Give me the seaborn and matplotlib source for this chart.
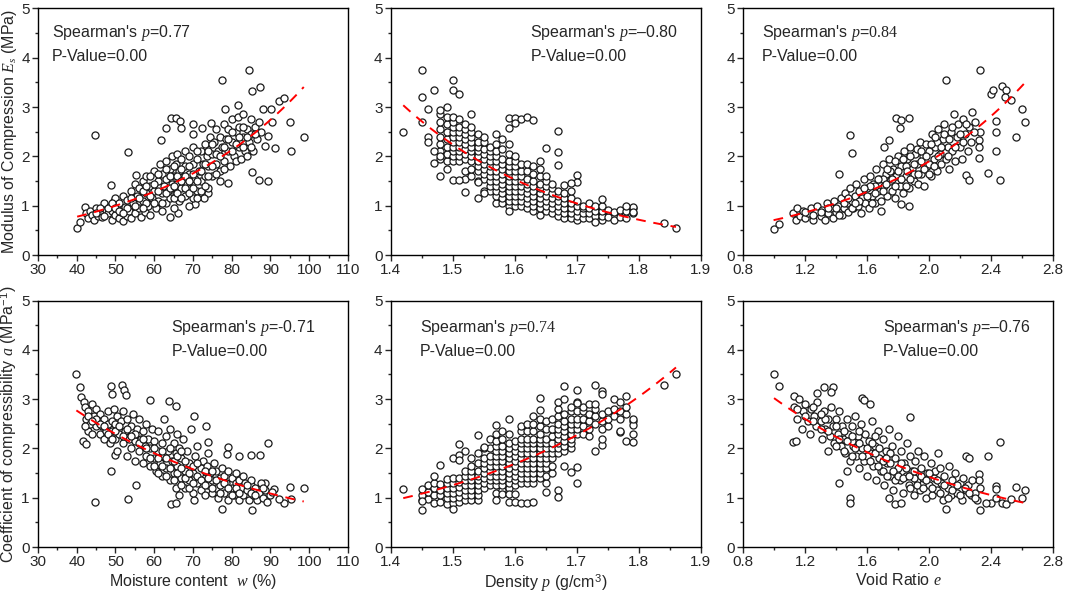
import numpy as np
import matplotlib
matplotlib.use("Agg")
import matplotlib.pyplot as plt
import seaborn as sns
from matplotlib.ticker import MultipleLocator

# ---- data (x, y) ----
# Es vs moisture content w
es_w = [
    (40.1, 0.54), (40.8, 0.66), (44.6, 2.43), (53.2, 2.08), (48.9, 1.43), (55.4, 1.63),
    (77.5, 3.55), (84.5, 3.76), (85.2, 3.33), (87.4, 3.41), (92.2, 3.12), (93.5, 3.19),
    (95.1, 2.70), (95.4, 2.11), (98.6, 2.39), (91.1, 2.18), (89.4, 2.42), (88.7, 2.21),
    (89.4, 1.51), (87.0, 1.52), (85.2, 1.69), (90.2, 2.96), (88.1, 2.97), (90.4, 2.70),
    (78.2, 2.96), (81.6, 3.05), (64.4, 2.77), (65.7, 2.77), (66.6, 2.72), (63.1, 2.57),
    (66.9, 2.58), (61.8, 2.33), (70.0, 2.65), (70.0, 2.45), (72.4, 2.57), (74.7, 2.68),
    (79.0, 1.47), (76.9, 1.51), (73.9, 1.25), (72.8, 1.15), (66.1, 0.86), (64.0, 0.78),
    (70.6, 1.03),
    (42, 0.98), (42.5, 0.85), (43, 0.75), (43.5, 0.9), (44, 0.82), (44.5, 0.72), (45, 0.95),
    (45.5, 0.8), (46, 0.88), (46.5, 0.78), (47, 1.05), (47.5, 0.92), (48, 0.85), (48.5, 1.0),
    (49, 0.72), (49, 0.9), (49.5, 1.1), (50, 0.82), (50, 1.15), (50.5, 0.95),
    (51, 0.75), (51, 1.05), (51.5, 0.88), (52, 0.68), (52, 1.2), (52.5, 0.98), (53, 0.8),
    (53, 1.12), (53.5, 0.9), (54, 1.3), (54, 0.75), (54.5, 1.05), (55, 0.85), (55, 1.45),
    (55.5, 1.2), (56, 0.95), (56, 1.35), (56.5, 0.78),
    (57, 1.1), (57, 1.5), (57.5, 0.88), (58, 1.25), (58, 1.6), (58.5, 1.0), (59, 1.4),
    (59, 0.82), (59.5, 1.15), (60, 1.3), (60, 1.7), (60.5, 0.95), (61, 1.5), (61, 1.1),
    (61.5, 1.85), (62, 1.25), (62, 0.9), (62, 1.65), (62.5, 1.4),
    (63, 1.05), (63, 1.55), (63, 1.9), (63.5, 1.3), (64, 1.75), (64, 1.15), (64.5, 1.45),
    (64.5, 2.0), (65, 0.95), (65, 1.6), (65.5, 1.25), (65.5, 1.85), (66, 1.45), (66, 2.05),
    (66.5, 1.1), (66.5, 1.7), (67, 1.35), (67, 1.95), (67.5, 1.55), (68, 1.2), (68, 1.8),
    (68, 2.1), (68.5, 1.45),
    (69, 1.0), (69, 1.65), (69, 2.0), (69.5, 1.35), (70, 1.85), (70, 1.15), (70, 2.2),
    (70.5, 1.55), (71, 1.95), (71, 1.3), (71.5, 1.7), (72, 2.1), (72, 1.5), (72.5, 1.85),
    (73, 2.25), (73, 1.6), (73.5, 2.0), (74, 1.35), (74, 1.8), (74.5, 2.4),
    (75, 2.05), (75, 1.6), (75.5, 2.3), (76, 1.85), (76, 2.55), (76.5, 2.1), (77, 1.7),
    (77, 2.4), (77.5, 2.2), (78, 1.9), (78, 2.65), (78.5, 2.35), (79, 2.1), (79, 2.55),
    (79.5, 1.8), (80, 2.3), (80, 2.75), (80.5, 2.0),
    (81, 2.5), (81, 1.9), (81.5, 2.8), (82, 2.2), (82, 2.6), (82.5, 1.95), (83, 2.4),
    (83, 2.85), (83.5, 2.1), (84, 2.55), (84, 2.0), (84.5, 2.3), (85, 2.75), (85, 2.45),
    (85.5, 2.1), (86, 2.6), (86.5, 2.35), (87, 2.7), (87.5, 2.5),
    (58, 1.05), (59, 1.2), (60, 1.45), (60, 1.05), (61, 1.3), (61, 1.65), (62, 1.05),
    (63, 1.25), (63, 1.75), (64, 1.35), (64, 1.6), (65, 1.15), (65, 1.4), (65, 1.8),
    (66, 1.25), (66, 1.6), (67, 1.15), (67, 1.5), (67, 1.75), (68, 1.35), (68, 1.6),
    (69, 1.25), (69, 1.5), (69, 1.8), (70, 1.35), (70, 1.65), (71, 1.15), (71, 1.5),
    (71, 2.1), (72, 1.3), (72, 1.7), (73, 1.4), (73, 1.85), (74, 1.6), (74, 2.1),
    (75, 1.8), (75, 2.25), (76, 2.05), (76, 1.65), (77, 2.0), (78, 2.2), (78, 1.75),
    (79, 2.35), (80, 2.1), (80, 2.5), (81, 2.25), (82, 2.4), (83, 2.2), (83, 2.6),
    (84, 2.4), (85, 2.2), (86, 2.45), (53, 0.95), (54, 1.15), (55, 1.0), (56, 1.15),
    (57, 0.95), (57, 1.3), (58, 1.4), (59, 1.6), (47, 0.8), (48, 0.95), (49, 1.05),
    (50, 0.95), (51, 0.9), (52, 0.85), (46, 0.95), (45, 0.85),
]

# Es vs density rho: (density, [Es values in that column])
es_rho_cols = [
    (1.48, [1.95, 2.1, 2.25, 2.4, 2.55, 2.7, 2.85, 2.95]),
    (1.49, [1.9, 2.05, 2.2, 2.35, 2.5, 2.65, 2.8, 3.0]),
    (1.50, [1.9, 2.0, 2.1, 2.2, 2.3, 2.4, 2.5, 2.6, 2.7, 2.8]),
    (1.51, [1.9, 2.0, 2.1, 2.2, 2.3, 2.4, 2.5, 2.6, 2.75]),
    (1.52, [1.55, 1.7, 1.95, 2.05, 2.15, 2.25, 2.35, 2.45, 2.55, 2.65]),
    (1.53, [1.6, 1.75, 1.9, 2.0, 2.1, 2.2, 2.3, 2.4, 2.5, 2.6]),
    (1.54, [1.5, 1.7, 1.8, 1.9, 2.0, 2.1, 2.2, 2.3, 2.45]),
    (1.55, [1.3, 1.55, 1.65, 1.75, 1.85, 1.95, 2.05, 2.15, 2.3, 2.4]),
    (1.56, [1.3, 1.4, 1.5, 1.6, 1.7, 1.8, 1.9, 2.0, 2.1, 2.2]),
    (1.57, [1.05, 1.2, 1.3, 1.4, 1.5, 1.6, 1.7, 1.8, 1.9, 2.0, 2.1, 2.25, 2.45]),
    (1.58, [1.05, 1.15, 1.25, 1.35, 1.45, 1.55, 1.65, 1.75, 1.85, 1.95, 2.15, 2.35]),
    (1.59, [1.0, 1.1, 1.2, 1.3, 1.4, 1.5, 1.6, 1.7, 1.8, 1.9, 2.05, 2.25]),
    (1.60, [1.0, 1.1, 1.2, 1.3, 1.4, 1.5, 1.6, 1.7, 1.8, 1.9, 2.0]),
    (1.61, [1.0, 1.1, 1.2, 1.3, 1.4, 1.5, 1.6, 1.7, 1.85]),
    (1.62, [0.95, 1.05, 1.15, 1.25, 1.35, 1.45, 1.55, 1.7, 1.85]),
    (1.63, [0.9, 1.0, 1.1, 1.2, 1.3, 1.4, 1.5, 1.65, 1.8]),
    (1.64, [0.82, 0.95, 1.05, 1.15, 1.25, 1.35, 1.45, 1.6, 1.75, 1.9]),
    (1.65, [0.9, 1.0, 1.1, 1.2, 1.3, 1.4, 1.5, 1.6]),
    (1.66, [0.85, 0.95, 1.05, 1.15, 1.25, 1.35, 1.45]),
    (1.67, [0.8, 0.9, 1.0, 1.1, 1.2, 1.3]),
    (1.68, [0.75, 0.85, 0.95, 1.05, 1.15, 1.25]),
    (1.69, [0.75, 0.85, 0.95, 1.05, 1.15, 1.3]),
    (1.70, [0.7, 0.8, 0.9, 1.0, 1.1]),
    (1.71, [0.75, 0.85, 0.95, 1.0]),
    (1.72, [0.75, 0.85, 0.95, 1.05]),
    (1.73, [0.8, 0.9, 1.0]),
    (1.74, [0.7, 0.8, 0.9, 1.0]),
    (1.75, [0.78, 0.92]),
    (1.76, [0.72, 0.88]),
    (1.77, [0.78, 0.92]),
    (1.78, [0.75, 0.9]),
    (1.79, [0.85, 0.95]),
]
es_rho_extra = [
    (1.42, 2.49), (1.45, 3.75), (1.45, 3.2), (1.45, 2.69), (1.46, 2.96), (1.46, 2.4),
    (1.46, 2.3), (1.47, 3.34), (1.47, 1.86), (1.47, 2.1), (1.48, 1.6), (1.48, 2.0),
    (1.49, 1.74), (1.50, 3.55), (1.50, 3.34), (1.51, 3.26), (1.50, 1.52), (1.51, 1.52),
    (1.52, 1.28), (1.53, 2.87), (1.54, 1.15), (1.54, 1.49), (1.55, 1.25), (1.59, 0.9),
    (1.59, 2.77), (1.60, 2.77), (1.61, 2.75), (1.62, 2.79), (1.63, 2.74), (1.59, 2.57),
    (1.60, 2.67), (1.65, 2.18), (1.67, 2.52), (1.67, 2.09), (1.67, 1.82), (1.70, 1.62),
    (1.70, 1.49), (1.68, 1.42), (1.69, 1.47), (1.84, 0.64), (1.86, 0.54), (1.79, 0.98),
    (1.79, 0.88), (1.78, 1.0), (1.74, 1.13), (1.73, 0.67),
]

# Es vs void ratio e
es_e = [
    (0.997, 0.53), (1.03, 0.63), (1.49, 2.44), (1.50, 2.07), (1.42, 1.64), (2.11, 3.55),
    (2.33, 3.75), (2.40, 3.27), (2.41, 3.35), (2.47, 3.42), (2.50, 3.35), (2.49, 3.20),
    (2.53, 3.14), (2.60, 2.97), (2.62, 2.70), (2.56, 2.39), (2.43, 2.71), (2.43, 2.49),
    (2.43, 2.11), (2.38, 1.67), (2.46, 1.52), (2.32, 1.97), (2.33, 2.50), (2.32, 2.34),
    (2.32, 2.19), (2.24, 1.63), (2.26, 1.52), (1.79, 2.78), (1.82, 2.73), (1.87, 2.78),
    (1.81, 2.57), (1.74, 2.34), (1.71, 2.2), (1.87, 1.0), (1.82, 1.04), (1.69, 0.9),
    (1.12, 0.85), (1.14, 0.7), (1.15, 0.95), (1.17, 0.8), (1.19, 0.9), (1.2, 0.75),
    (1.22, 0.85), (1.24, 0.95), (1.25, 0.72), (1.27, 0.88), (1.28, 1.0), (1.3, 0.8),
    (1.31, 0.92), (1.33, 0.7), (1.34, 1.05), (1.35, 0.85), (1.37, 0.95), (1.38, 0.75),
    (1.39, 1.1),
    (1.4, 0.88), (1.41, 1.0), (1.43, 1.15), (1.44, 0.82), (1.45, 0.95), (1.46, 1.25),
    (1.47, 1.05), (1.48, 0.88), (1.49, 1.35), (1.5, 1.1), (1.51, 0.95), (1.52, 1.2),
    (1.53, 1.45), (1.54, 1.0), (1.55, 1.3), (1.56, 0.85), (1.57, 1.15), (1.58, 1.55),
    (1.59, 1.05), (1.6, 1.35),
    (1.61, 0.95), (1.62, 1.6), (1.63, 1.2), (1.64, 1.45), (1.65, 1.05), (1.66, 1.75),
    (1.67, 1.3), (1.68, 1.55), (1.69, 1.1), (1.7, 1.85), (1.71, 1.4), (1.72, 1.65),
    (1.73, 1.2), (1.74, 1.95), (1.75, 1.5), (1.76, 1.3), (1.77, 1.75), (1.78, 1.15),
    (1.79, 1.6), (1.8, 2.0),
    (1.81, 1.4), (1.82, 1.8), (1.83, 1.25), (1.84, 2.1), (1.85, 1.6), (1.86, 1.95),
    (1.87, 1.35), (1.88, 2.2), (1.89, 1.75), (1.9, 1.5), (1.91, 2.05), (1.92, 1.85),
    (1.93, 1.45), (1.94, 2.3), (1.95, 1.65), (1.96, 2.0), (1.97, 1.4), (1.98, 2.25),
    (1.99, 1.8), (2.0, 2.1),
    (2.01, 1.6), (2.02, 2.45), (2.03, 1.95), (2.04, 2.2), (2.05, 1.7), (2.06, 2.55),
    (2.07, 2.05), (2.08, 1.85), (2.09, 2.35), (2.1, 2.65), (2.11, 1.95), (2.12, 2.2),
    (2.13, 1.75), (2.14, 2.5), (2.15, 2.1), (2.16, 2.85), (2.17, 1.9), (2.18, 2.4),
    (2.19, 2.65), (2.2, 2.2), (2.21, 1.95), (2.22, 2.75), (2.23, 2.45), (2.25, 2.1),
    (2.26, 2.6), (2.27, 2.3), (2.28, 2.9), (2.29, 2.5), (2.3, 2.7),
    (1.65, 1.4), (1.75, 1.7), (1.85, 1.8), (1.95, 1.9), (2.05, 2.3), (1.7, 1.55),
    (1.9, 1.65), (2.0, 1.85),
    (1.55, 1.1), (1.6, 1.2), (1.62, 1.4), (1.65, 1.25), (1.67, 1.55), (1.7, 1.3),
    (1.72, 1.45), (1.73, 1.75), (1.76, 1.55), (1.78, 1.4), (1.78, 1.9), (1.8, 1.7),
    (1.82, 1.55), (1.83, 1.95), (1.85, 1.4), (1.86, 1.7), (1.88, 1.55), (1.88, 2.0),
    (1.9, 1.85), (1.92, 2.15), (1.93, 1.65), (1.95, 2.1), (1.97, 1.75), (1.98, 2.0),
    (2.0, 1.65), (2.01, 2.25), (2.03, 1.8), (2.04, 2.4), (2.06, 2.0), (2.08, 2.2),
    (2.1, 2.45), (2.12, 2.0), (2.13, 2.35), (2.15, 2.6), (2.17, 2.2), (2.2, 2.45),
    (2.22, 2.3), (2.24, 2.65), (1.45, 1.05), (1.48, 1.15), (1.5, 0.95), (1.52, 1.05),
    (1.4, 0.95), (1.42, 0.82), (1.35, 0.95), (1.3, 0.88), (1.25, 0.82), (1.2, 0.88),
    (1.58, 1.35), (1.63, 1.05),
]

# a vs moisture content w
a_w = [
    (39.9, 3.51), (40.8, 3.24), (41.2, 3.04), (41.8, 2.95), (41.6, 2.16), (42.5, 2.09),
    (44.6, 0.91), (48.8, 3.26), (49.0, 3.11), (51.8, 3.28), (52.1, 3.19), (52.6, 3.09),
    (48.9, 1.54), (50.0, 1.86), (53.2, 0.97), (55.4, 1.26), (58.8, 2.99), (63.8, 2.97),
    (65.7, 2.87), (73.3, 2.45), (70.3, 2.65), (89.4, 2.11), (87.2, 1.86), (85.1, 1.86),
    (82.0, 1.84), (79.0, 2.03), (78.9, 1.89), (74.0, 2.13), (85.3, 0.76), (77.6, 0.78),
    (95.1, 1.22), (98.6, 1.2), (95.4, 0.98), (93.5, 0.89), (92.2, 0.97), (91.0, 1.18),
    (88.5, 1.3), (70.3, 0.95), (64.4, 0.88), (65.7, 0.89),
    (42, 2.85), (42.5, 2.6), (43, 2.35), (43, 2.75), (43.5, 2.5), (44, 2.9), (44, 2.3),
    (44.5, 2.65), (45, 2.45), (45, 2.8), (45.5, 2.55), (46, 2.3), (46, 2.7), (46.5, 2.45),
    (47, 2.2), (47, 2.6), (47.5, 2.35), (48, 2.75), (48, 2.5), (48.5, 2.1), (49, 2.55),
    (49, 2.35), (49.5, 2.8), (50, 2.2), (50, 2.5), (50.5, 1.95), (50.5, 2.65),
    (51, 2.3), (51.5, 2.55), (52, 2.1), (52, 2.75), (52.5, 2.35), (53, 1.85), (53, 2.6),
    (53.5, 2.2), (54, 2.45), (54, 2.0), (54.5, 2.7), (55, 2.15), (55, 1.75), (55.5, 2.4),
    (56, 1.95), (56, 2.6), (56.5, 2.2), (57, 1.7), (57, 2.35), (57.5, 2.05),
    (58, 1.85), (58, 2.5), (58.5, 2.2), (59, 1.65), (59, 2.0), (59.5, 2.4), (60, 1.8),
    (60, 2.15), (60.5, 1.55), (61, 2.35), (61, 1.95), (61.5, 1.7), (62, 2.1), (62, 1.45),
    (62.5, 2.6), (62.5, 1.85), (63, 1.6), (63, 2.25), (63.5, 1.95), (64, 1.35), (64, 2.4),
    (64.5, 1.75),
    (65, 2.1), (65, 1.5), (65.5, 1.2), (65.5, 1.9), (66, 2.3), (66, 1.65), (66.5, 1.05),
    (66.5, 2.0), (67, 1.4), (67, 1.8), (67.5, 2.2), (68, 1.55), (68, 1.2), (68.5, 1.95),
    (69, 1.35), (69, 1.7), (69.5, 2.4), (70, 1.5), (70, 1.1), (70.5, 1.85), (71, 1.3),
    (71, 2.05),
    (72, 1.6), (72, 1.15), (72.5, 1.75), (73, 1.4), (73, 1.05), (73.5, 1.65), (74, 1.25),
    (74, 1.9), (74.5, 1.5), (75, 1.1), (75, 1.35), (75.5, 1.7), (76, 1.2), (76, 1.55),
    (76.5, 1.0), (77, 1.4), (77, 1.25), (77.5, 1.6), (78, 1.1), (78, 1.45), (78.5, 1.3),
    (79, 0.95), (79, 1.55),
    (80, 1.2), (80, 1.4), (80.5, 1.05), (81, 1.3), (81, 1.5), (81.5, 1.15), (82, 0.95),
    (82, 1.35), (82.5, 1.2), (83, 1.45), (83, 1.05), (83.5, 1.3), (84, 1.15), (84.5, 0.95),
    (85, 1.25), (85, 1.35), (85.5, 1.05), (86, 1.2), (86.5, 0.95), (87, 1.1), (87.5, 1.3),
    (88, 1.0), (88.5, 1.15), (89, 0.92), (90, 1.05), (90.5, 1.12),
    (55, 2.3), (56, 2.1), (57, 2.2), (58, 2.0), (59, 1.8), (60, 2.0), (60, 1.65),
    (61, 1.8), (61, 1.5), (62, 1.65), (62, 1.95), (63, 1.45), (63, 1.8), (64, 1.6),
    (64, 2.0), (65, 1.35), (65, 1.75), (66, 1.5), (66, 1.85), (67, 1.25), (67, 1.6),
    (67, 1.95), (68, 1.4), (68, 1.75), (69, 1.5), (69, 1.2), (70, 1.65), (70, 1.3),
    (71, 1.45), (71, 1.7), (72, 1.35), (73, 1.55), (73, 1.25), (74, 1.4), (75, 1.2),
    (75, 1.55), (76, 1.35), (77, 1.1), (78, 1.3), (79, 1.2), (80, 1.05), (81, 1.2),
    (82, 1.1), (84, 1.25), (85, 1.1), (86, 1.05), (88, 1.2), (45, 2.6), (46, 2.5),
    (47, 2.45), (48, 2.3), (49, 2.2), (50, 2.35), (51, 2.45), (52, 2.25), (53, 2.4),
    (54, 2.25), (42, 2.45), (43, 2.65), (44, 2.55),
]

# a vs density rho: (density, [a values in that column])
a_rho_cols = [
    (1.45, [0.95, 1.05, 1.18]),
    (1.46, [0.98, 1.12, 1.25]),
    (1.47, [0.9, 1.05, 1.2, 1.3, 1.45]),
    (1.48, [0.92, 1.05, 1.15, 1.28]),
    (1.49, [0.88, 1.0, 1.1, 1.2, 1.3, 1.38]),
    (1.50, [0.9, 1.0, 1.1, 1.2, 1.3, 1.4, 1.8]),
    (1.51, [0.92, 1.02, 1.12, 1.22, 1.32, 1.4]),
    (1.52, [0.95, 1.05, 1.15, 1.25, 1.35, 1.45, 1.55, 1.95]),
    (1.53, [0.95, 1.05, 1.15, 1.25, 1.35, 1.45, 1.55, 1.65, 1.8]),
    (1.54, [0.95, 1.05, 1.15, 1.25, 1.35, 1.45, 1.55, 1.7, 1.9]),
    (1.55, [1.2, 1.3, 1.4, 1.5, 1.6, 1.7, 1.8, 2.0]),
    (1.56, [1.25, 1.35, 1.45, 1.55, 1.65, 1.75, 1.85, 2.0, 2.2]),
    (1.57, [1.1, 1.25, 1.35, 1.45, 1.55, 1.65, 1.75, 1.85, 1.95, 2.05, 2.15, 2.3]),
    (1.58, [1.15, 1.25, 1.35, 1.45, 1.55, 1.65, 1.75, 1.85, 1.95, 2.05, 2.2, 2.35]),
    (1.59, [1.2, 1.3, 1.4, 1.5, 1.6, 1.7, 1.8, 1.9, 2.0, 2.1, 2.3]),
    (1.60, [1.25, 1.35, 1.45, 1.55, 1.65, 1.75, 1.85, 1.95, 2.05, 2.15]),
    (1.61, [1.3, 1.4, 1.5, 1.6, 1.7, 1.8, 1.9, 2.0, 2.1, 2.2, 2.35, 2.45]),
    (1.62, [1.3, 1.4, 1.5, 1.6, 1.7, 1.8, 1.9, 2.0, 2.1, 2.2, 2.35, 2.5]),
    (1.63, [1.3, 1.4, 1.5, 1.6, 1.7, 1.8, 1.9, 2.0, 2.1, 2.2, 2.35, 2.5, 2.65]),
    (1.64, [1.4, 1.5, 1.6, 1.7, 1.8, 1.9, 2.0, 2.1, 2.2, 2.3, 2.45, 2.6]),
    (1.65, [1.3, 1.45, 1.6, 1.7, 1.8, 1.9, 2.0, 2.1, 2.2, 2.4, 2.55]),
    (1.66, [1.5, 1.65, 1.8, 1.9, 2.0, 2.1, 2.25, 2.4, 2.6]),
    (1.67, [1.9, 2.0, 2.1, 2.2, 2.3, 2.4, 2.5, 2.65, 2.8, 2.95]),
    (1.68, [1.95, 2.05, 2.15, 2.25, 2.35, 2.45, 2.55, 2.7]),
    (1.69, [2.0, 2.1, 2.2, 2.3, 2.4, 2.5, 2.6, 2.75, 2.85]),
    (1.70, [2.3, 2.4, 2.5, 2.6, 2.75, 2.95]),
    (1.71, [2.3, 2.45, 2.6, 2.75, 2.85]),
    (1.72, [2.25, 2.4, 2.55, 2.7, 2.9]),
    (1.73, [2.5, 2.65, 2.8, 2.9]),
    (1.74, [2.4, 2.55, 2.7]),
    (1.75, [2.45, 2.6, 2.75]),
    (1.76, [2.65, 2.8, 3.0]),
    (1.77, [2.6, 2.75, 2.95]),
    (1.78, [2.7, 2.85]),
    (1.79, [2.55]),
]
a_rho_extra = [
    (1.42, 1.18), (1.45, 0.93), (1.45, 0.76), (1.48, 1.67), (1.50, 0.78), (1.51, 2.08),
    (1.51, 1.86), (1.51, 1.76), (1.54, 2.28), (1.55, 2.03), (1.57, 2.47), (1.57, 0.95),
    (1.58, 1.08), (1.59, 1.07), (1.59, 0.91), (1.60, 0.91), (1.61, 0.89), (1.62, 0.89),
    (1.63, 0.91), (1.60, 1.08), (1.59, 2.6), (1.64, 3.03), (1.64, 2.77), (1.65, 1.11),
    (1.67, 1.15), (1.67, 1.01), (1.68, 3.26), (1.68, 3.01), (1.70, 3.19), (1.70, 2.92),
    (1.70, 1.30), (1.69, 1.52), (1.68, 1.64), (1.70, 1.62), (1.73, 3.28), (1.74, 3.16),
    (1.74, 3.10), (1.73, 1.95), (1.74, 2.06), (1.74, 2.20), (1.77, 2.33), (1.77, 2.36),
    (1.78, 2.16), (1.79, 2.13), (1.79, 2.3), (1.79, 2.47), (1.79, 2.6), (1.78, 3.07),
    (1.84, 3.28), (1.86, 3.51),
]

# a vs void ratio e
a_e = [
    (1.0, 3.51), (1.03, 3.27), (1.13, 3.07), (1.12, 2.13), (1.14, 2.15), (1.32, 3.25),
    (1.38, 3.25), (1.37, 3.15), (1.28, 3.12), (1.35, 1.94), (1.42, 1.29), (1.49, 0.99),
    (1.49, 0.90), (1.47, 1.54), (1.57, 3.03), (1.58, 2.99), (1.62, 2.91), (1.88, 2.64),
    (1.74, 1.0), (1.78, 0.88), (1.82, 0.9), (2.11, 0.77), (2.33, 0.75), (2.32, 1.49),
    (2.32, 1.36), (2.24, 1.85), (2.26, 1.8), (2.38, 1.85), (2.46, 2.12), (2.43, 1.24),
    (2.43, 1.17), (2.40, 0.9), (2.37, 0.9), (2.43, 1.0), (2.47, 0.89), (2.50, 0.87),
    (2.53, 0.97), (2.56, 1.22), (2.60, 1.0), (2.62, 1.15), (2.06, 1.9),
    (1.13, 2.85), (1.15, 2.6), (1.16, 3.0), (1.18, 2.4), (1.19, 2.75), (1.2, 2.9),
    (1.22, 2.55), (1.23, 2.3), (1.24, 2.8), (1.26, 2.65), (1.27, 2.45), (1.28, 2.95),
    (1.3, 2.55), (1.31, 2.2), (1.32, 2.75), (1.33, 2.4), (1.35, 2.6), (1.36, 2.25),
    (1.37, 2.85), (1.38, 2.45), (1.39, 2.1), (1.4, 2.6),
    (1.41, 2.3), (1.42, 2.75), (1.43, 2.05), (1.44, 2.45), (1.45, 2.2), (1.46, 1.9),
    (1.47, 2.6), (1.48, 2.3), (1.49, 1.75), (1.5, 2.45), (1.51, 2.05), (1.52, 2.65),
    (1.53, 1.85), (1.54, 2.25), (1.55, 1.6), (1.56, 2.5), (1.57, 2.0), (1.58, 1.75),
    (1.59, 2.3), (1.6, 1.45),
    (1.61, 2.15), (1.62, 1.9), (1.63, 2.55), (1.64, 1.65), (1.65, 2.05), (1.66, 1.35),
    (1.67, 2.35), (1.68, 1.8), (1.69, 1.55), (1.7, 2.2), (1.71, 1.25), (1.72, 1.95),
    (1.73, 1.7), (1.74, 2.4), (1.75, 1.45), (1.76, 2.05), (1.77, 1.15), (1.78, 1.8),
    (1.79, 1.55), (1.8, 2.25),
    (1.81, 1.35), (1.82, 1.95), (1.83, 1.1), (1.84, 1.7), (1.85, 1.45), (1.86, 2.1),
    (1.87, 1.25), (1.88, 1.85), (1.89, 1.55), (1.9, 1.05), (1.91, 1.75), (1.92, 1.35),
    (1.93, 1.95), (1.94, 1.15), (1.95, 1.6), (1.96, 1.4), (1.97, 1.85), (1.98, 1.0),
    (1.99, 1.5), (2.0, 1.25),
    (2.01, 1.7), (2.02, 1.05), (2.03, 1.4), (2.04, 1.55), (2.05, 1.15), (2.07, 1.6),
    (2.08, 1.3), (2.09, 0.95), (2.1, 1.45), (2.12, 1.2), (2.13, 1.65), (2.14, 1.05),
    (2.15, 1.35), (2.17, 1.5), (2.18, 1.1), (2.2, 1.3), (2.21, 0.95), (2.22, 1.4),
    (2.24, 1.15), (2.25, 1.25), (2.27, 1.05), (2.28, 1.35), (2.3, 1.1), (2.31, 0.95),
    (2.33, 1.2),
    (1.5, 2.15), (1.6, 1.85), (1.7, 1.75), (1.8, 1.6), (1.9, 1.4), (1.65, 2.25),
    (1.75, 1.9), (1.55, 2.35),
    (1.2, 2.65), (1.25, 2.55), (1.3, 2.4), (1.33, 2.6), (1.35, 2.35), (1.4, 2.45),
    (1.42, 2.2), (1.45, 2.35), (1.47, 2.15), (1.5, 2.25), (1.52, 2.0), (1.55, 2.1),
    (1.57, 1.85), (1.6, 2.0), (1.62, 1.75), (1.63, 2.1), (1.65, 1.9), (1.67, 1.65),
    (1.68, 2.0), (1.7, 1.55), (1.72, 1.8), (1.73, 1.45), (1.75, 1.7), (1.77, 1.55),
    (1.78, 1.35), (1.8, 1.45), (1.82, 1.7), (1.83, 1.4), (1.85, 1.6), (1.87, 1.45),
    (1.88, 1.2), (1.9, 1.55), (1.92, 1.25), (1.95, 1.45), (1.96, 1.2), (1.98, 1.35),
    (2.0, 1.5), (2.02, 1.2), (2.05, 1.35), (2.07, 1.1), (2.1, 1.25), (2.12, 1.0),
    (2.15, 1.15), (2.18, 1.25), (2.2, 1.05), (2.23, 1.2), (2.26, 1.1), (2.3, 1.0),
    (1.25, 2.85), (1.3, 2.7), (1.15, 2.8), (1.4, 2.05), (1.45, 1.95), (1.5, 1.85),
]

rho_labels = ["Spearman's $p$=0.77", "Spearman's $p$=\u20130.80", "Spearman's $p$=$\\mathsf{0.84}$",
              "Spearman's $p$=-0.71", "Spearman's $p$=$\\mathsf{0.74}$", "Spearman's $p$=\u20130.76"]
p_label = "P-Value=0.00"
x_labels = ["Moisture content  $w$ (%)", "Density $p$ (g/cm$^3$)", "Void Ratio $e$"]
y_labels = ["Modulus of Compression $E_s$ (MPa)", "Coefficient of compressibility $a$ (MPa$^{-1}$)"]


def expand(cols, extra):
    return [(x, y) for x, ys in cols for y in ys] + list(extra)


panels = [
    (es_w, (30, 110), 10, 5), (expand(es_rho_cols, es_rho_extra), (1.4, 1.9), 0.1, 0.05),
    (es_e, (0.8, 2.8), 0.4, 0.2),
    (a_w, (30, 110), 10, 5), (expand(a_rho_cols, a_rho_extra), (1.4, 1.9), 0.1, 0.05),
    (a_e, (0.8, 2.8), 0.4, 0.2),
]
text_x = [0.045, 0.45, 0.06, 0.43, 0.094, 0.45]

sns.set_style("ticks")
plt.rcParams["font.family"] = ["Liberation Sans", "DejaVu Sans"]
plt.rcParams["mathtext.fontset"] = "custom"
plt.rcParams["mathtext.rm"] = "Liberation Sans"
plt.rcParams["mathtext.it"] = "Liberation Serif:italic"
plt.rcParams["mathtext.sf"] = "Liberation Serif"

fig = plt.figure(figsize=(10.65, 5.94), dpi=100)
lefts = [0.0357, 0.367, 0.6977]
bottoms = [0.5707, 0.0791]
W, H = 0.291, 0.415

for i, (pts, xlim, major, minor) in enumerate(panels):
    r, c = divmod(i, 3)
    ax = fig.add_axes([lefts[c], bottoms[r], W, H])
    x = np.array([p[0] for p in pts])
    y = np.array([p[1] for p in pts])
    sns.scatterplot(x=x, y=y, ax=ax, s=26, facecolor="white", edgecolor="#1a1a1a",
                    linewidth=0.9, legend=False, zorder=2)
    # exponential fit
    k, b = np.polyfit(x, np.log(y), 1)
    xf = np.linspace(x.min(), x.max(), 100)
    ax.plot(xf, np.exp(b + k * xf), color="red", ls=(0, (5, 4)), lw=1.4, zorder=3)

    ax.set_xlim(*xlim)
    ax.set_ylim(0, 5)
    ax.xaxis.set_major_locator(MultipleLocator(major))
    ax.xaxis.set_minor_locator(MultipleLocator(minor))
    ax.yaxis.set_major_locator(MultipleLocator(1))
    ax.yaxis.set_minor_locator(MultipleLocator(0.5))
    ax.tick_params(which="major", direction="out", length=4, width=1, labelsize=11, pad=2)
    ax.tick_params(which="minor", direction="out", length=2, width=1)
    for sp in ax.spines.values():
        sp.set_visible(True)
        sp.set_linewidth(1)
        sp.set_color("black")
    if c == 0:
        ax.set_xticks(np.arange(30, 111, 10))
        ax.set_xticklabels([str(v) for v in range(30, 111, 10)])
    else:
        ax.set_xticklabels([f"{v:.1f}" for v in ax.get_xticks()])
    ax.set_yticklabels([str(int(v)) for v in ax.get_yticks()])

    ty = 0.90 if r == 0 else 0.887
    ax.text(text_x[i], ty, rho_labels[i], transform=ax.transAxes, fontsize=11.5, va="center")
    ax.text(text_x[i], ty - 0.095, p_label, transform=ax.transAxes, fontsize=11.5, va="center")

    if r == 1:
        ax.set_xlabel(x_labels[c], fontsize=11.5, labelpad=2)
    if c == 0:
        ax.set_ylabel(y_labels[r], fontsize=11.5)
        ax.yaxis.set_label_coords(-0.06, 0.5)

fig.savefig("out.png", dpi=100)
